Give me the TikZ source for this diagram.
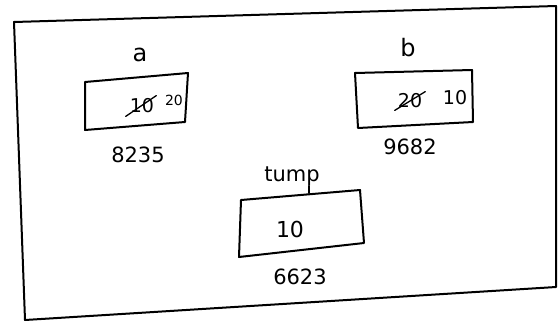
\documentclass[tikz,border=0pt]{standalone}
\usepackage{fontspec}
\setmainfont{DejaVu Sans}
\begin{document}
\begin{tikzpicture}[x=1pt,y=-1pt,
  ink/.style={line width=2pt,line join=round,line cap=round},
  lbl/.style={font=\fontsize{24}{26}\selectfont,inner sep=0pt},
  val/.style={font=\fontsize{19}{22}\selectfont,inner sep=0pt},
  addr/.style={font=\fontsize{21}{24}\selectfont,inner sep=0pt}]
\useasboundingbox (0,0) rectangle (559,322);
\fill[white] (0,0) rectangle (559,322);
% outer frame
\draw[ink] (14,22) -- (556,6) -- (556,287) -- (25,320) -- cycle;
% box a
\draw[ink] (85,82) -- (188,73) -- (185,122) -- (85,130) -- cycle;
\node[lbl] (la) at (140,55) {a};
\node[val] (olda) at (142,106) {10};
\draw[ink,line width=1.3pt] ([xshift=-4pt,yshift=-3pt]olda.south west) -- ([xshift=2pt,yshift=3pt]olda.north east);
\node[val,font=\fontsize{14}{16}\selectfont] (newa) at (174,100) {20};
\node[addr] (aa) at (138,155) {8235};
% box b
\draw[ink] (355,73) -- (472,70) -- (473,122) -- (358,128) -- cycle;
\node[lbl] (lb) at (408,48) {b};
\node[val] (oldb) at (410,101) {20};
\draw[ink,line width=1.3pt] ([xshift=-3pt,yshift=-2pt]oldb.south west) -- ([xshift=3pt,yshift=2pt]oldb.north east);
\node[val] (newb) at (455,98) {10};
\node[addr] (ab) at (410,147) {9682};
% temp
\draw[ink] (241,200) -- (360,190) -- (364,243) -- (239,257) -- cycle;
\node[lbl,font=\fontsize{21}{24}\selectfont] (lt) at (292,176) {tump};
\coordinate (pstem) at ([xshift=-11.3pt]lt.south east);
\coordinate (ttop) at (pstem |- 0,193);
\draw[ink] (pstem) -- (ttop);
\node[val,font=\fontsize{22}{24}\selectfont] (vt) at (290,229) {10};
\node[addr] (at) at (300,277) {6623};
\end{tikzpicture}
\end{document}
